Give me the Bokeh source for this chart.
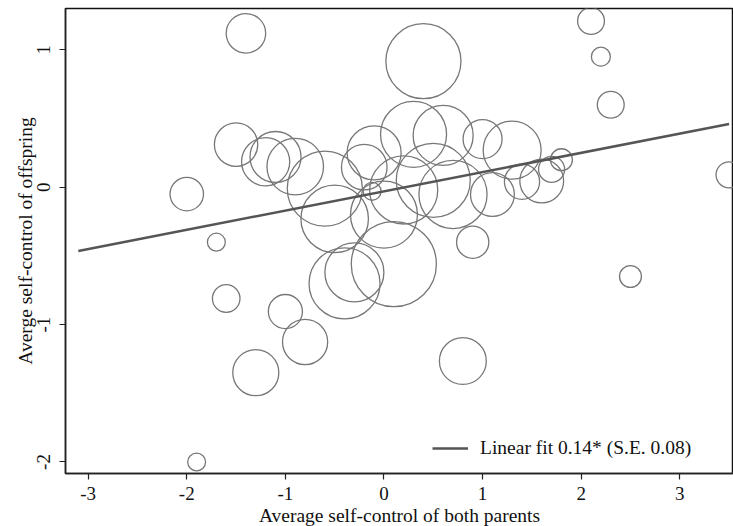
import numpy as np
from bokeh.plotting import figure
from bokeh.models import ColumnDataSource, Legend, LegendItem, FixedTicker, Range1d
from bokeh.embed import file_html
from bokeh.resources import INLINE

# Average self-control of both parents (x), of offspring (y), group weight (n)
parents = [-1.40, 0.40, 2.10, 2.20, 2.30, 3.50, -2.00, -1.70, -1.50, -1.20,
           -1.10, -0.90, -0.60, -0.50, -0.10, -0.20, 0.30, 0.60, 1.00, 1.30,
           0.50, 0.20, 0.70, 1.10, 1.40, 1.60, 1.70, 1.80, 0.90, 0.00,
           0.10, -0.40, -0.30, -1.00, -0.80, -1.30, -1.60, -1.90, 0.80, 2.50,
           -0.12]
offspring = [1.12, 0.917, 1.21, 0.95, 0.60, 0.09, -0.05, -0.40, 0.31, 0.185,
             0.22, 0.15, -0.01, -0.23, 0.25, 0.146, 0.385, 0.377, 0.35, 0.27,
             0.05, -0.02, -0.053, -0.053, 0.04, 0.045, 0.13, 0.20, -0.40, -0.20,
             -0.56, -0.70, -0.62, -0.905, -1.127, -1.35, -0.81, -2.00, -1.265, -0.65,
             -0.03]
weights = [39, 141, 18, 9, 18, 17, 28, 8, 47, 58,
           65, 80, 141, 114, 73, 52, 109, 90, 38, 84,
           137, 116, 116, 48, 31, 48, 17, 12, 26, 112,
           181, 126, 87, 29, 51, 53, 19, 8, 55, 12,
           8]

# Linear fit as reported in the chart
fit_slope = 0.14
fit_intercept = -0.03
fit_x = [-3.1, 3.5]
fit_label = "Linear fit 0.14* (S.E. 0.08)"

x_ticks = [-3, -2, -1, 0, 1, 2, 3]
x_tick_labels = ["-3", "-2", "-1", "0", "1", "2", "3"]
y_ticks = [-2, -1, 0, 1]
y_tick_labels = ["-2", "-1", "0", "1"]

FONT = "Liberation Serif"

src = ColumnDataSource(dict(
    x=parents, y=offspring,
    size=[2 * np.sqrt(10 * w) for w in weights],
))

p = figure(width=733, height=526, output_backend="svg", toolbar_location=None,
           x_range=Range1d(-3.230, 3.545), y_range=Range1d(-2.0837, 1.3006),
           min_border_left=65, min_border_right=0, min_border_top=8, min_border_bottom=53,
           frame_width=668, frame_height=465)
p.background_fill_color = "white"
p.border_fill_color = "white"
p.outline_line_color = "#111111"
p.outline_line_width = 1.5
p.xgrid.visible = False
p.ygrid.visible = False

p.scatter("x", "y", size="size", source=src, fill_color=None,
          line_color="#777777", line_width=1.3)

fx = np.array(fit_x)
fy = fit_intercept + fit_slope * fx
r = p.line(fx, fy, line_color="#555555", line_width=2.5)

for ax in (p.xaxis, p.yaxis):
    ax.axis_line_color = "#222222"
    ax.axis_line_width = 1.5
    ax.major_tick_line_color = "#222222"
    ax.major_tick_line_width = 1.2
    ax.major_tick_out = 6
    ax.major_tick_in = 0
    ax.minor_tick_line_color = None
    ax.major_label_text_font = FONT
    ax.major_label_text_font_size = "19px"
    ax.major_label_text_color = "#111111"
    ax.axis_label_text_font = FONT
    ax.axis_label_text_font_size = "19.5px"
    ax.axis_label_text_font_style = "normal"
    ax.axis_label_text_color = "#111111"

p.xaxis.ticker = FixedTicker(ticks=x_ticks)
p.yaxis.ticker = FixedTicker(ticks=y_ticks)
p.xaxis.major_label_overrides = dict(zip(x_ticks, x_tick_labels))
p.yaxis.major_label_overrides = dict(zip(y_ticks, y_tick_labels))
p.xaxis.axis_label = "Average self-control of both parents"
p.yaxis.axis_label = "Averge self-control of offspring"
p.yaxis.major_label_orientation = "vertical"
p.xaxis.major_label_standoff = 7
p.yaxis.major_label_standoff = 9
p.xaxis.axis_label_standoff = 2
p.yaxis.axis_label_standoff = -1

legend = Legend(items=[LegendItem(label=fit_label, renderers=[r])],
                location=(367, 14))
legend.border_line_color = None
legend.background_fill_alpha = 0
legend.padding = 0
legend.margin = 0
legend.glyph_width = 36
legend.glyph_height = 20
legend.label_height = 20
legend.label_standoff = 12
legend.label_text_font = FONT
legend.label_text_font_size = "19.5px"
legend.label_text_color = "#111111"
p.add_layout(legend, "center")

open("out.html", "w").write(file_html(p, INLINE))
